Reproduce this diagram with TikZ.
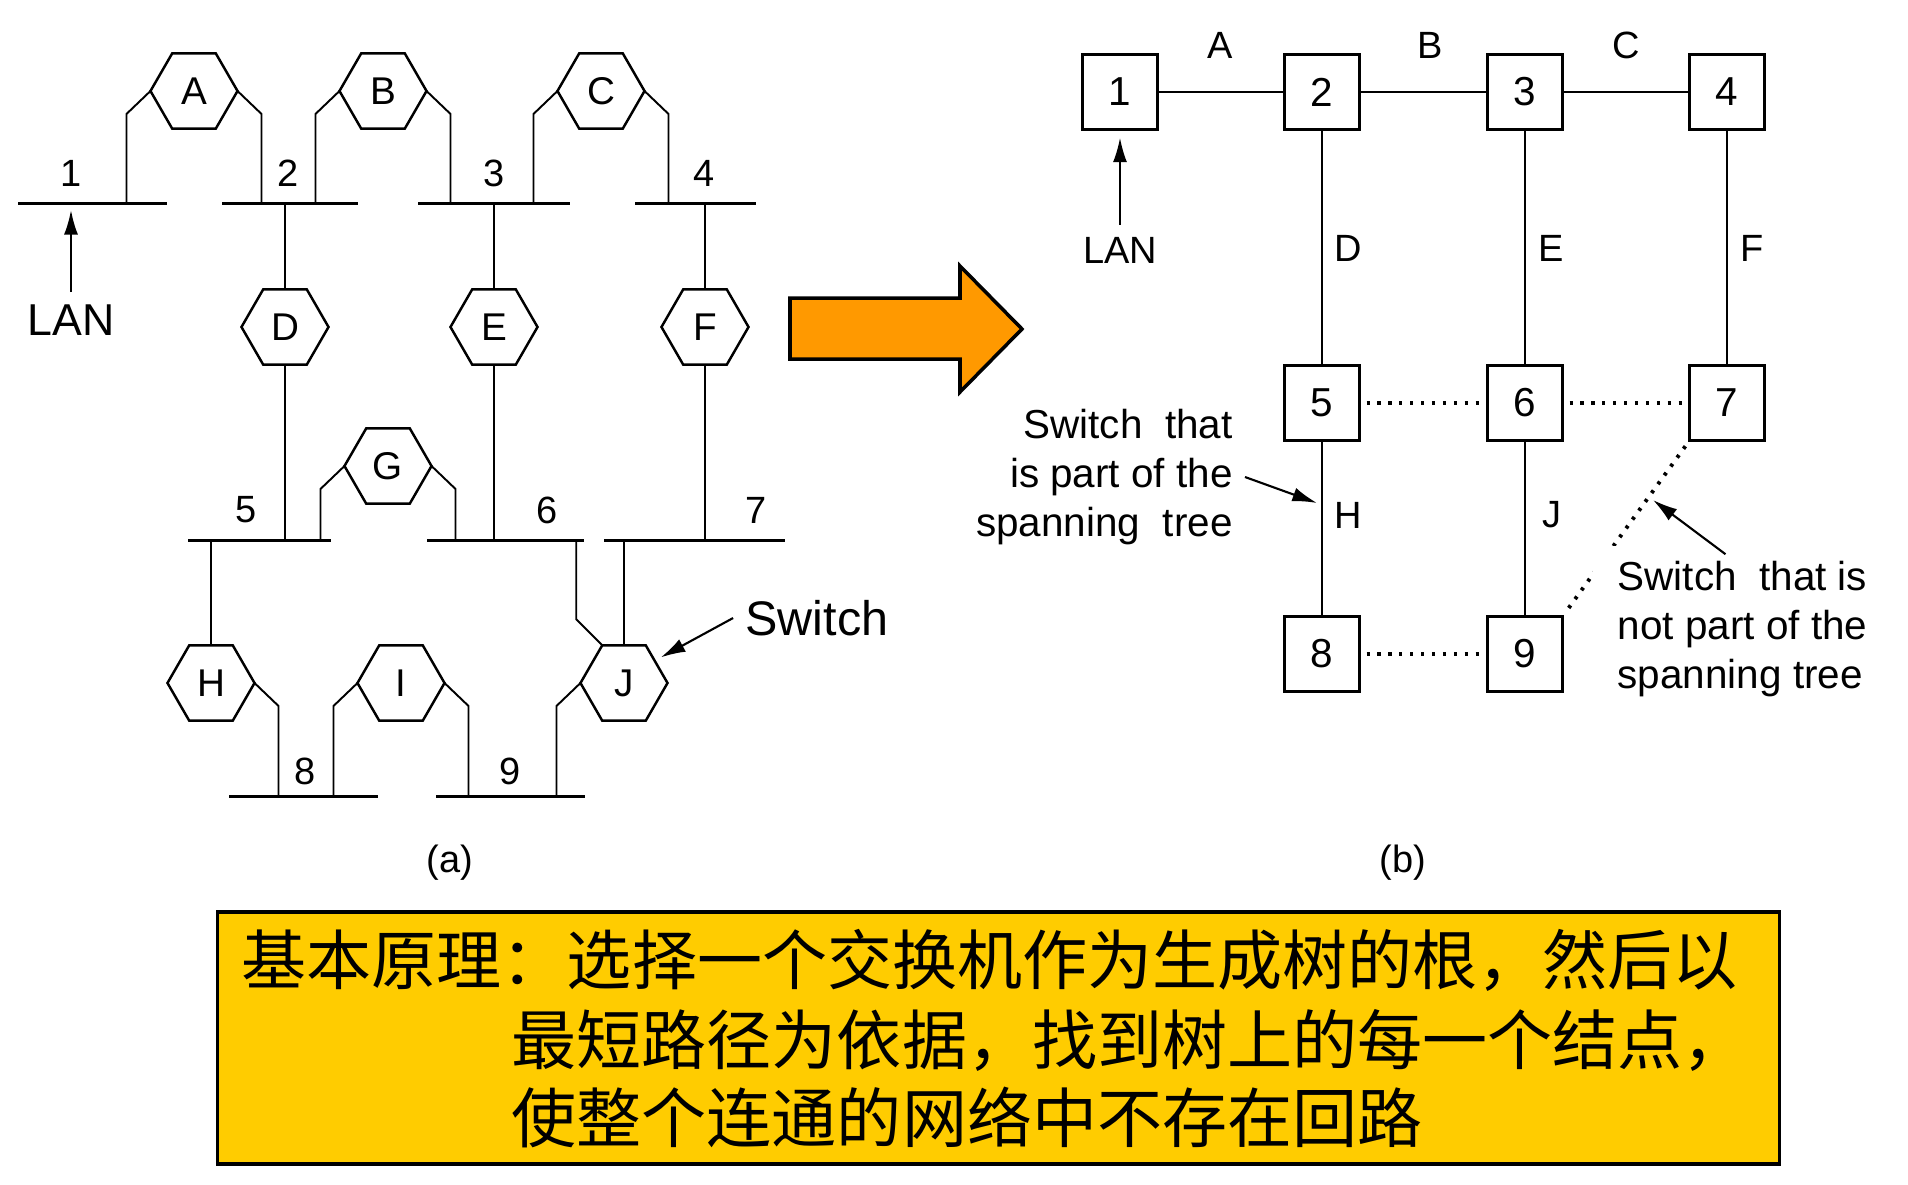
\documentclass[tikz,border=0pt]{standalone}
\usepackage{fontspec}
\setmainfont{Liberation Sans}
\newfontfamily\cjk{Noto Sans CJK SC}
\usetikzlibrary{arrows.meta,shapes.geometric}
\definecolor{arrowor}{HTML}{FF9900}
\definecolor{noteyel}{HTML}{FFCC00}

\begin{document}
\begin{tikzpicture}[x=0.01cm, y=-0.01cm, hexsw/.style={regular polygon, regular polygon sides=6, draw, line width=0.7pt, minimum size=0.87cm, inner sep=0pt, outer sep=0pt, font=\fontsize{11}{13}\selectfont}, lan/.style={line width=0.85pt}, leg/.style={line width=0.55pt}, num/.style={font=\fontsize{10.8}{13}\selectfont}, box/.style={rectangle, draw, line width=0.75pt, minimum size=0.75cm, inner sep=0pt, outer sep=0pt, font=\fontsize{11.5}{13}\selectfont}, tree/.style={line width=0.6pt}, spare/.style={line width=1.1pt, dash pattern=on 0.9pt off 2.2pt, shorten <=2pt, shorten >=2pt}, lbl/.style={font=\fontsize{10.8}{13}\selectfont}, callout/.style={font=\fontsize{11.5}{14}\selectfont}, arr/.style={-{Latex[length=7pt,width=4pt]}, line width=0.6pt}, cn/.style={font=\cjk\fontsize{18.5}{22}\selectfont, anchor=west, inner sep=0pt}]
\useasboundingbox (0,0) rectangle (1908,1184);
% (a) LANs joined by switches
\foreach \n/\xa/\xb/\y in {1/18/167/203, 2/222/358/203, 3/418/570/203, 4/635/756/203, 5/188/331/540, 6/427/584/540, 7/604/785/540, 8/229/378/796, 9/436/585/796}
  \draw[lan] (\xa,\y) coordinate (lan\n w) -- (\xb,\y) coordinate (lan\n e);
\foreach \n/\x/\y in {1/71/173, 2/288/173, 3/494/173, 4/704/173, 5/246/510, 6/547/510, 7/756/510, 8/305/771, 9/510/771}
  \node[num] (n\n) at (\x,\y) {\n};
\foreach \h/\x/\y in {A/194/91, B/383/91, C/601/91, D/285/327, E/494/327, F/705/327, G/388/466, H/211/683, I/401/683, J/624/683}
  \node[hexsw] (\h) at (\x,\y) {\h};
\draw[leg] (A.180) -- ++(-24,23) coordinate (p) -- (p |- lan1w);
\draw[leg] (A.0) -- ++(24,23) coordinate (p) -- (p |- lan2w);
\draw[leg] (B.180) -- ++(-24,23) coordinate (p) -- (p |- lan2w);
\draw[leg] (B.0) -- ++(24,23) coordinate (p) -- (p |- lan3w);
\draw[leg] (C.180) -- ++(-24,23) coordinate (p) -- (p |- lan3w);
\draw[leg] (C.0) -- ++(24,23) coordinate (p) -- (p |- lan4w);
\draw[leg] (D.north) -- (D.north |- lan2w); \draw[leg] (D.south) -- (D.south |- lan5w);
\draw[leg] (E.north) -- (E.north |- lan3w); \draw[leg] (E.south) -- (E.south |- lan6w);
\draw[leg] (F.north) -- (F.north |- lan4w); \draw[leg] (F.south) -- (F.south |- lan7w);
\draw[leg] (G.180) -- ++(-24,23) coordinate (p) -- (p |- lan5w);
\draw[leg] (G.0) -- ++(24,23) coordinate (p) -- (p |- lan6w);
\draw[leg] (H.north) -- (H.north |- lan5w);
\draw[leg] (H.0) -- ++(24,23) coordinate (p) -- (p |- lan8w);
\draw[leg] (I.180) -- ++(-24,23) coordinate (p) -- (p |- lan8w);
\draw[leg] (I.0) -- ++(24,23) coordinate (p) -- (p |- lan9w);
\draw[leg] (J.180) -- ++(-24,23) coordinate (p) -- (p |- lan9w);
\draw[leg] (J.north) -- (J.north |- lan7w);
\draw[leg] (J.120) -- ++(-26,-26) coordinate (p) -- (p |- lan6w);
\node[font=\fontsize{12.7}{15}\selectfont] (lanA) at (71,320) {LAN};
\draw[arr, shorten >=2pt] (lanA.north) -- (lanA.north |- lan1w);
\node[font=\fontsize{13.8}{16}\selectfont] (swA) at (817,618) {Switch};
\draw[arr, shorten >=2pt] (swA.west) -- (J.36);
\node[lbl] (capA) at (450,863) {(a)};
% big arrow
\draw[fill=arrowor, line width=1pt] (790,298) -- (960,298) -- (960,266) -- (1022,329) -- (960,392) -- (960,359) -- (790,359) -- cycle;
% (b) spanning tree
\foreach \b/\x/\y in {1/1120/92, 2/1322/92, 3/1525/92, 4/1727/92, 5/1322/403, 6/1525/403, 7/1727/403, 8/1322/654, 9/1525/654}
  \node[box] (b\b) at (\x,\y) {\b};
\draw[tree] (b1) -- (b2) -- (b3) -- (b4);
\draw[tree] (b2) -- (b5) -- (b8); \draw[tree] (b3) -- (b6) -- (b9); \draw[tree] (b4) -- (b7);
\draw[spare] (b5) -- (b6); \draw[spare] (b6) -- (b7); \draw[spare] (b8) -- (b9);
\draw[spare] (b7.south west) -- (b9.north east);
\foreach \l/\x/\y in {A/1220/45, B/1430/45, C/1626/45, D/1348/248, E/1551/248, F/1752/248, H/1348/515, J/1552/515}
  \node[lbl] (lbl\l) at (\x,\y) {\l};
\node[lbl] (lanB) at (1120,250) {LAN};
\draw[arr, shorten >=2.3pt] (lanB.north) -- (b1.south);
\node[callout, align=right, anchor=east] (partT) at (1245,477) {Switch\ \ that\\is part of the\\spanning\ \ tree};
\coordinate (tipH) at (1317,503);
\draw[arr] (partT.east) -- (tipH);
\node[callout, align=left, anchor=west, fill=white, inner xsep=0.25cm, inner ysep=0.15cm] (notT) at (1592,629) {Switch\ \ that is\\not part of the\\spanning tree};
\coordinate (tipX) at (1653,500);
\draw[arr] (notT.north) ++(-17,9) -- (tipX);
\node[lbl] (capB) at (1403,863) {(b)};
% summary box
\node[rectangle, draw, line width=1.1pt, fill=noteyel, minimum width=15.61cm, minimum height=2.52cm] (note) at (998.5,1038) {};
\node[cn] (l1) at (241,960) {基本原理：选择一个交换机作为生成树的根，然后以};
\node[cn] (l2) at (511,1040) {最短路径为依据，找到树上的每一个结点，};
\node[cn] (l3) at (511,1117) {使整个连通的网络中不存在回路};
\end{tikzpicture}
\end{document}
